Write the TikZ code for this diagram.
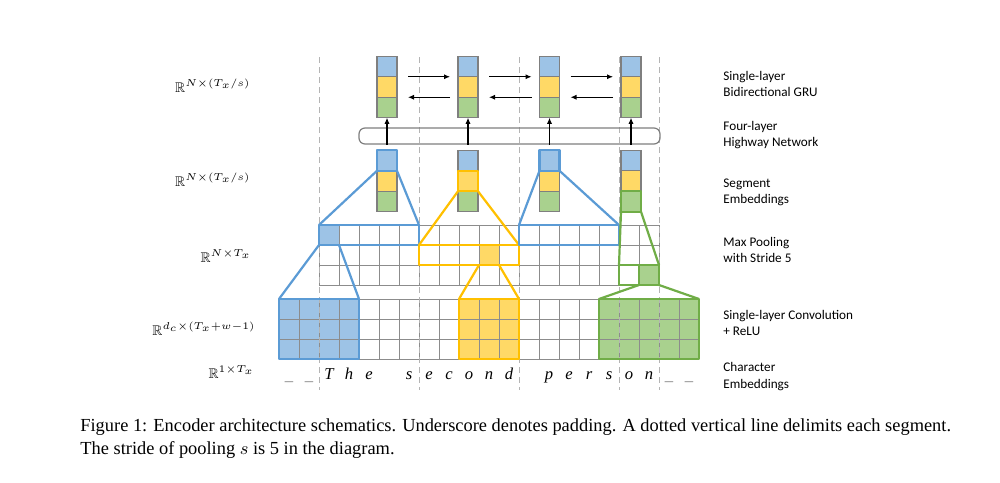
\documentclass[tikz,border=0pt]{standalone}
\usepackage{amsmath,amssymb}
\usepackage{fontspec}
\setmainfont{Liberation Serif}
\newfontfamily\calibri{Carlito}
\usetikzlibrary{arrows.meta}
\definecolor{bfill}{HTML}{9DC3E6}
\definecolor{bline}{HTML}{5B9BD5}
\definecolor{ofill}{HTML}{FFD966}
\definecolor{oline}{HTML}{FFC000}
\definecolor{gfill}{HTML}{A9D18E}
\definecolor{gline}{HTML}{70AD47}
\definecolor{cellgray}{HTML}{7F7F7F}
\definecolor{gridgray}{HTML}{8C8C8C}
\definecolor{seggray}{HTML}{B4B4B4}
\tikzset{
  cell/.style={draw=cellgray, line width=0.6pt, minimum width=10pt, minimum height=10.25pt, inner sep=0pt, outer sep=0pt},
  bcell/.style={cell, fill=bfill},
  ocell/.style={cell, fill=ofill},
  gcell/.style={cell, fill=gfill},
  hlb/.style={draw=bline, line width=1.1pt, line join=round},
  hlo/.style={draw=oline, line width=1.1pt, line join=round},
  hlg/.style={draw=gline, line width=1.1pt, line join=round},
  gridline/.style={draw=gridgray, line width=0.5pt},
  segline/.style={draw=seggray, line width=0.5pt, dash pattern=on 3pt off 2pt},
  arr/.style={-{Latex[length=3pt,width=2.6pt]}, line width=0.55pt, black},
  rlabel/.style={anchor=west, align=left, font=\calibri\fontsize{6.6}{8.2}\selectfont, inner sep=0pt},
  llabel/.style={anchor=east, font=\fontsize{7}{8.4}\selectfont, inner sep=0pt},
  chr/.style={anchor=base, font=\fontsize{8.3}{10}\selectfont\itshape, inner sep=0pt},
}
\begin{document}
\begin{tikzpicture}[x=0.5pt,y=-0.5pt]
\useasboundingbox[fill=white] (0,0) rectangle (1000,482);

% ---- fills of grids
\fill[bfill] (279,299) rectangle (359,359);
\fill[ofill] (459,299) rectangle (519,359);
\fill[gfill] (599,299) rectangle (699,359);
\fill[bfill] (319,225) rectangle (339,245);
\fill[ofill] (479,245) rectangle (499,265);
\fill[gfill] (639,265) rectangle (659,285);

% ---- conv grid (21 x 3)
\foreach \c in {0,...,21} \draw[gridline] (279+20*\c,299) -- (279+20*\c,359);
\foreach \r in {0,...,3} \draw[gridline] (279,299+20*\r) -- (699,299+20*\r);
% ---- max pooling grid (17 x 3)
\foreach \c in {0,...,17} \draw[gridline] (319+20*\c,225) -- (319+20*\c,285);
\foreach \r in {0,...,3} \draw[gridline] (319,225+20*\r) -- (659,225+20*\r);

% ---- segment delimiters
\foreach \x in {319,419,519,619,659} \draw[segline] (\x,57) -- (\x,390);

% ---- GRU and segment stacks
\foreach \i/\x in {1/387,2/468,3/549.5,4/631}{
  \node[bcell] (ga\i) at (\x,66.5) {};
  \node[ocell] (gb\i) at (\x,87) {};
  \node[gcell] (gc\i) at (\x,107.5) {};
  \node[bcell] (sa\i) at (\x,160.5) {};
  \node[ocell] (sb\i) at (\x,181) {};
  \node[gcell] (sc\i) at (\x,201.5) {};
}

% ---- highway network box
\node[draw=cellgray, rounded corners=3pt, line width=0.6pt, minimum width=150.5pt, minimum height=8pt, inner sep=0pt] (hw) at (509.5,136) {};
\foreach \i in {1,...,4} \draw[arr] (hw.south -| gc\i) -- (gc\i.south);

% ---- GRU arrows
\foreach \i/\j in {1/2,2/3,3/4}{
  \draw[arr] ([xshift=5.5pt]ga\i.south east) -- ([xshift=-4pt]ga\j.south west);
  \draw[arr] ([xshift=-4pt]gb\j.south west) -- ([xshift=5.5pt]gb\i.south east);
}

% ---- named corners
\coordinate (mb1l) at (319,225); \coordinate (mb1r) at (419,225);
\coordinate (mb1b) at (419,245);
\coordinate (mbcl) at (319,245); \coordinate (mbcr) at (339,245);
\coordinate (mo1l) at (419,245); \coordinate (mo1r) at (519,245);
\coordinate (mo1b) at (519,265);
\coordinate (mocl) at (479,265); \coordinate (mocr) at (499,265);
\coordinate (mb2l) at (519,225); \coordinate (mb2r) at (619,225);
\coordinate (mb2b) at (619,245);
\coordinate (mg1l) at (619,265); \coordinate (mg1r) at (659,265);
\coordinate (mg1b) at (659,285);
\coordinate (mgcl) at (639,285); \coordinate (mgcr) at (659,285);
\coordinate (cbl) at (279,299); \coordinate (cbr) at (359,299);
\coordinate (col) at (459,299); \coordinate (cor) at (519,299);
\coordinate (cgl) at (599,299); \coordinate (cgr) at (699,299);

% ---- blue (segment 1)
\draw[hlb] (sa1.south west) rectangle (sa1.north east);
\draw[hlb] (sa1.south west) -- (mb1l);
\draw[hlb] (sa1.south east) -- (mb1r);
\draw[hlb] (mb1l) rectangle (mb1b);
\draw[hlb] (mbcl) -- (cbl);
\draw[hlb] (mbcr) -- (cbr);
\draw[hlb] (cbl) rectangle (359,359);
% ---- orange (segment 2)
\draw[hlo] (sb2.south west) rectangle (sb2.north east);
\draw[hlo] (sb2.south west) -- (mo1l);
\draw[hlo] (sb2.south east) -- (mo1r);
\draw[hlo] (mo1l) rectangle (mo1b);
\draw[hlo] (mocl) -- (col);
\draw[hlo] (mocr) -- (cor);
\draw[hlo] (col) rectangle (519,359);
% ---- blue (segment 3)
\draw[hlb] (sa3.south west) rectangle (sa3.north east);
\draw[hlb] (sa3.south west) -- (mb2l);
\draw[hlb] (sa3.south east) -- (mb2r);
\draw[hlb] (mb2l) rectangle (mb2b);
% ---- green (segment 4)
\draw[hlg] (sc4.south west) rectangle (sc4.north east);
\draw[hlg] (sc4.south west) -- (mg1l);
\draw[hlg] (sc4.south east) -- (mg1r);
\draw[hlg] (mg1l) rectangle (mg1b);
\draw[hlg] (639,265) rectangle (mgcr);
\draw[hlg] (mgcl) -- (cgl);
\draw[hlg] (mgcr) -- (cgr);
\draw[hlg] (cgl) rectangle (699,359);

% ---- characters
\foreach \k in {0,1,19,20} \node[chr, text=gray] (ch\k) at (289+20*\k,380) {\_};
\foreach \k/\c in {2/T,3/h,4/e,6/s,7/e,8/c,9/o,10/n,11/d,13/p,14/e,15/r,16/s,17/o,18/n}
  \node[chr] (ch\k) at (289+20*\k,379) {\c};

% ---- left labels
\node[llabel] (l1) at (251,86) {$\mathbb{R}^{N\times(T_x/s)}$};
\node[llabel] (l2) at (251,180) {$\mathbb{R}^{N\times(T_x/s)}$};
\node[llabel] (l3) at (252,256) {$\mathbb{R}^{N\times T_x}$};
\node[llabel] (l4) at (256,329) {$\mathbb{R}^{d_c\times(T_x+w-1)}$};
\node[llabel] (l5) at (255,372) {$\mathbb{R}^{1\times T_x}$};

% ---- right labels
\node[rlabel] (r1) at (723,84) {Single-layer\\Bidirectional GRU};
\node[rlabel] (r2) at (723,135) {Four-layer\\Highway Network};
\node[rlabel] (r3) at (723,192.5) {Segment\\Embeddings};
\node[rlabel] (r4) at (723,250) {Max Pooling\\with Stride 5};
\node[rlabel] (r5) at (723,323) {Single-layer Convolution\\+ ReLU};
\node[rlabel] (r6) at (723,376.5) {Character\\Embeddings};

% ---- caption
\node[anchor=base west, inner sep=0pt, font=\fontsize{9.2}{11}\selectfont] (cap1) at (80,431) {Figure 1: Encoder architecture schematics. Underscore denotes padding. A dotted vertical line delimits each segment.};
\node[anchor=base west, inner sep=0pt, font=\fontsize{9.2}{11}\selectfont] (cap2) at (80,454) {The stride of pooling $s$ is 5 in the diagram.};
\end{tikzpicture}
\end{document}
